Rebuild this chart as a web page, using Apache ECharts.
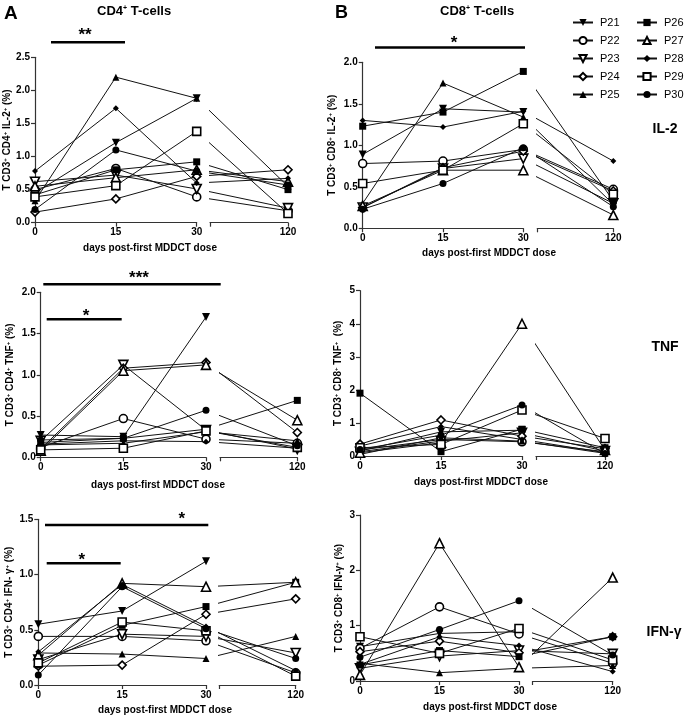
<!DOCTYPE html>
<html><head><meta charset="utf-8">
<script src="https://cdn.jsdelivr.net/npm/echarts@6/dist/echarts.min.js"></script>
<style>html,body{margin:0;padding:0;background:#fff}#chart{width:685px;height:717px}</style>
</head><body><div id="chart"></div>
<script>
// ---------------- data ----------------
const patients = ['P21','P22','P23','P24','P25','P26','P27','P28','P29','P30'];
const days = [0, 15, 30, 120];
// rows follow `patients`, columns follow `days` (null = not measured)
const cd4IL2 = [
  [0.45, 1.21, 1.88, null],
  [0.50, 0.82, 0.39, 0.18],
  [0.62, 0.72, 0.51, 0.22],
  [0.16, 0.36, 0.70, 0.80],
  [0.33, 2.20, 1.88, 0.55],
  [0.42, 0.80, 0.92, 0.50],
  [0.55, 0.68, 0.80, 0.62],
  [0.78, 1.73, 0.60, 0.67],
  [0.39, 0.56, 1.38, 0.14],
  [0.20, 1.10, 0.78, 0.57]
];
const cd8IL2 = [
  [0.89, 1.44, 1.40, null],
  [0.78, 0.81, 0.95, 0.47],
  [0.25, 0.72, 0.84, 0.30],
  [0.25, 0.73, 0.93, 0.45],
  [0.30, 1.75, 1.34, 0.29],
  [1.23, 1.40, 1.89, 0.33],
  [0.27, 0.70, 0.70, 0.16],
  [1.30, 1.22, 1.41, 0.81],
  [0.54, 0.70, 1.26, 0.41],
  [0.23, 0.54, 0.97, 0.26]
];
const cd4TNF = [
  [0.27, 0.25, 1.70, null],
  [0.12, 0.47, 0.22, 0.17],
  [0.20, 1.12, 0.33, 0.10],
  [0.10, 1.08, 1.15, 0.30],
  [0.15, 0.17, 0.31, 0.20],
  [0.18, 0.23, 0.34, 0.69],
  [0.08, 1.05, 1.12, 0.45],
  [0.16, 0.20, 0.19, 0.11],
  [0.09, 0.11, 0.32, 0.12],
  [0.21, 0.23, 0.57, 0.14]
];
const cd8TNF = [
  [0.15, 0.73, 0.78, null],
  [0.18, 0.50, 0.43, 0.13],
  [0.13, 0.45, 0.70, 0.15],
  [0.36, 1.09, 0.60, 0.22],
  [0.05, 0.55, 0.45, 0.08],
  [1.90, 0.13, 0.81, 0.25],
  [0.10, 0.40, 4.00, 0.18],
  [0.30, 0.89, 0.50, 0.10],
  [0.25, 0.35, 1.39, 0.53],
  [0.20, 0.63, 1.54, 0.07]
];
const cd4IFN = [
  [0.55, 0.67, 1.12, null],
  [0.44, 0.44, 0.40, 0.11],
  [0.23, 0.46, 0.44, 0.29],
  [0.17, 0.18, 0.64, 0.78],
  [0.29, 0.28, 0.24, 0.44],
  [0.18, 0.54, 0.71, 0.93],
  [0.27, 0.92, 0.89, 0.93],
  [0.30, 0.91, 0.53, 0.13],
  [0.20, 0.57, 0.49, 0.08],
  [0.09, 0.89, 0.51, 0.24]
];
const cd8IFN = [
  [0.62, 0.86, 0.89, null],
  [0.59, 1.34, 0.85, 0.32],
  [0.23, 0.45, 0.55, 0.49],
  [0.53, 0.72, 0.51, 0.80],
  [0.32, 0.15, 0.23, 0.28],
  [0.29, 0.55, 0.44, 0.80],
  [0.11, 2.49, 0.25, 1.87],
  [0.30, 0.80, 0.64, 0.17],
  [0.80, 0.50, 0.95, 0.38],
  [0.43, 0.93, 1.45, 0.47]
];
const mainTicks = [0, 15, 30];
const tailTick = 120;

// ---------------- layout / style ----------------
const FONT = 'Liberation Sans, Arial, Helvetica, sans-serif';
const AX = '#333';
const panels = [
  {data: cd4IL2, x0: 35,    x30: 196.7, xb: 210,   x120: 288,   yTop: 57.3,  yBot: 222.7, yMax: 2.5, yInt: 0.5, dec: 1, gap: 23,
   name: 'T CD3{s|+} CD4{s|+} IL-2{s|+} (%)'},
  {data: cd4TNF, x0: 40.7,  x30: 206,   xb: 220,   x120: 297.3, yTop: 292.3, yBot: 457.3, yMax: 2,   yInt: 0.5, dec: 1, gap: 25,
   name: 'T CD3{s|+} CD4{s|+} TNF{s|+} (%)'},
  {data: cd4IFN, x0: 38.3,  x30: 206,   xb: 219.3, x120: 295.7, yTop: 519.3, yBot: 685,   yMax: 1.5, yInt: 0.5, dec: 1, gap: 24,
   name: 'T CD3{s|+} CD4{s|+} IFN- γ{s|+} (%)'},
  {data: cd8IL2, x0: 362.7, x30: 523.3, xb: 537.3, x120: 613.3, yTop: 62.3,  yBot: 228.3, yMax: 2,   yInt: 0.5, dec: 1, gap: 25,
   name: 'T CD3{s|+} CD8{s|+} IL-2{s|+} (%)'},
  {data: cd8TNF, x0: 360,   x30: 522,   xb: 536,   x120: 605,   yTop: 290.7, yBot: 456,   yMax: 5,   yInt: 1,   dec: 0, gap: 17,
   name: 'T CD3{s|+} CD8{s|+} TNF{s|+}  (%)'},
  {data: cd8IFN, x0: 360,   x30: 519,   xb: 532.7, x120: 612.7, yTop: 515,   yBot: 681,   yMax: 3,   yInt: 1,   dec: 0, gap: 16,
   name: 'T CD3{s|+} CD8{s|+} IFN-γ{s|+} (%)'}
];
const marks = [
  {symbol: 'triangle', rotate: 180, size: 8, open: false},
  {symbol: 'circle',   rotate: 0,   size: 8, open: true},
  {symbol: 'triangle', rotate: 180, size: 9, open: true},
  {symbol: 'diamond',  rotate: 0,   size: 8, open: true},
  {symbol: 'triangle', rotate: 0,   size: 7, open: false},
  {symbol: 'rect',     rotate: 0,   size: 7, open: false},
  {symbol: 'triangle', rotate: 0,   size: 9, open: true},
  {symbol: 'diamond',  rotate: 0,   size: 6, open: false},
  {symbol: 'rect',     rotate: 0,   size: 8, open: true},
  {symbol: 'circle',   rotate: 0,   size: 7, open: false}
];

const grid = [], xAxis = [], yAxis = [], series = [];
const tickLabel = {fontSize: 10, fontWeight: 'bold', color: '#000', fontFamily: FONT, margin: 5};
panels.forEach((p, pi) => {
  const h = p.yBot - p.yTop;
  const tailMin = 30 + (p.xb - p.x30) * 90 / (p.x120 - p.x30);
  grid.push({left: p.x0, top: p.yTop, width: p.x30 - p.x0, height: h, outerBoundsMode: 'none', containLabel: false});
  grid.push({left: p.xb, top: p.yTop, width: p.x120 - p.xb, height: h, outerBoundsMode: 'none', containLabel: false});
  xAxis.push({type: 'value', gridIndex: pi * 2, min: mainTicks[0], max: mainTicks[2], interval: mainTicks[1] - mainTicks[0],
    axisLine: {show: true, onZero: false, lineStyle: {color: AX, width: 1.2}},
    axisTick: {show: true, length: 4, lineStyle: {color: AX, width: 1.2}},
    axisLabel: tickLabel, splitLine: {show: false}});
  xAxis.push({type: 'value', gridIndex: pi * 2 + 1, min: tailMin, max: tailTick,
    axisLine: {show: true, onZero: false, lineStyle: {color: AX, width: 1.2}},
    axisTick: {show: true, length: 4, customValues: [tailMin, tailTick], lineStyle: {color: AX, width: 1.2}},
    axisLabel: Object.assign({customValues: [tailTick]}, tickLabel), splitLine: {show: false}});
  yAxis.push({type: 'value', gridIndex: pi * 2, min: 0, max: p.yMax, interval: p.yInt,
    axisLine: {show: true, onZero: false, lineStyle: {color: AX, width: 1.2}},
    axisTick: {show: true, length: 4, lineStyle: {color: AX, width: 1.2}},
    axisLabel: Object.assign({formatter: v => v.toFixed(p.dec)}, tickLabel), splitLine: {show: false},
    name: p.name, nameLocation: 'middle', nameGap: p.gap,
    nameTextStyle: {fontSize: 10, fontWeight: 'bold', color: '#000', fontFamily: FONT,
      rich: {s: {fontSize: 6, fontWeight: 'bold', color: '#000', fontFamily: FONT, verticalAlign: 'top'}}}});
  yAxis.push({type: 'value', gridIndex: pi * 2 + 1, min: 0, max: p.yMax, show: false, splitLine: {show: false}});
  p.data.forEach((row, i) => {
    const m = marks[i];
    const common = {
      type: 'line', name: patients[i], symbol: m.symbol, symbolSize: m.size, symbolRotate: m.rotate,
      showSymbol: true, showAllSymbol: true, silent: true, animation: false,
      itemStyle: m.open ? {color: '#fff', borderColor: '#000', borderWidth: 1.6} : {color: '#000', borderColor: '#000', borderWidth: 0},
      lineStyle: {color: '#111', width: 1}, emphasis: {disabled: true}
    };
    series.push(Object.assign({}, common, {xAxisIndex: pi * 2, yAxisIndex: pi * 2,
      data: [[days[0], row[0]], [days[1], row[1]], [days[2], row[2]]]}));
    series.push(Object.assign({}, common, {xAxisIndex: pi * 2 + 1, yAxisIndex: pi * 2 + 1, clip: true,
      data: [{value: [days[2], row[2]], symbol: 'none'}, [days[3], row[3]]]}));
  });
});

const txt = (text, x, y, size, align, weight) => ({type: 'text', x: x, y: y, silent: true,
  style: {text: text, fill: '#000', font: (weight || 'bold') + ' ' + size + 'px ' + FONT,
    align: align || 'center', verticalAlign: 'middle', textAlign: align || 'center', textVerticalAlign: 'middle'}});
const bar = (x1, y, x2) => ({type: 'line', silent: true, shape: {x1: x1, y1: y, x2: x2, y2: y}, style: {stroke: '#000', lineWidth: 2.6}});

const graphic = [
  txt('A', 4, 14, 19, 'left'), txt('B', 335, 13, 18, 'left'),
  txt('IL-2', 665, 129, 14), txt('TNF', 665, 347.5, 14), txt('IFN-γ', 664, 632.5, 14),
  txt('days post-first MDDCT dose', 150, 248, 10), txt('days post-first MDDCT dose', 158, 485, 10),
  txt('days post-first MDDCT dose', 165, 710, 10), txt('days post-first MDDCT dose', 489, 253, 10),
  txt('days post-first MDDCT dose', 481, 482.5, 10), txt('days post-first MDDCT dose', 490, 707.5, 10),
  bar(51, 42.3, 125), txt('**', 85, 35, 17),
  bar(375, 47.5, 525), txt('*', 454, 43, 17),
  bar(43.3, 284.3, 220.7), txt('***', 139, 278, 17),
  bar(46.7, 319.3, 121.7), txt('*', 86, 316.5, 17),
  bar(45, 525, 208.3), txt('*', 181.7, 519, 17),
  bar(46.7, 563.3, 120.7), txt('*', 81.7, 560, 17)
];

const titleStyle = {fontSize: 13, fontWeight: 'bold', color: '#000', fontFamily: FONT,
  rich: {s: {fontSize: 7, fontWeight: 'bold', color: '#000', fontFamily: FONT, verticalAlign: 'top'}}};
const legendBase = {orient: 'vertical', top: 17, itemWidth: 20, itemHeight: 9, itemGap: 7, padding: 0,
  selectedMode: false, symbolRotate: 'inherit',
  textStyle: {fontSize: 11, color: '#000', fontFamily: FONT, lineHeight: 9, padding: [0, 0, 0, 2]}};

const chart = echarts.init(document.getElementById('chart'), null, {renderer: 'canvas'});
chart.setOption({
  backgroundColor: '#fff',
  animation: false,
  title: [
    {text: 'CD4{s|+} T-cells', left: 97, top: 5, padding: 0, textStyle: titleStyle},
    {text: 'CD8{s|+} T-cells', left: 440, top: 5, padding: 0, textStyle: titleStyle}
  ],
  legend: [
    Object.assign({}, legendBase, {left: 572, data: patients.slice(0, 5)}),
    Object.assign({}, legendBase, {left: 636, data: patients.slice(5)})
  ],
  grid: grid, xAxis: xAxis, yAxis: yAxis, series: series, graphic: graphic
});
</script></body></html>
